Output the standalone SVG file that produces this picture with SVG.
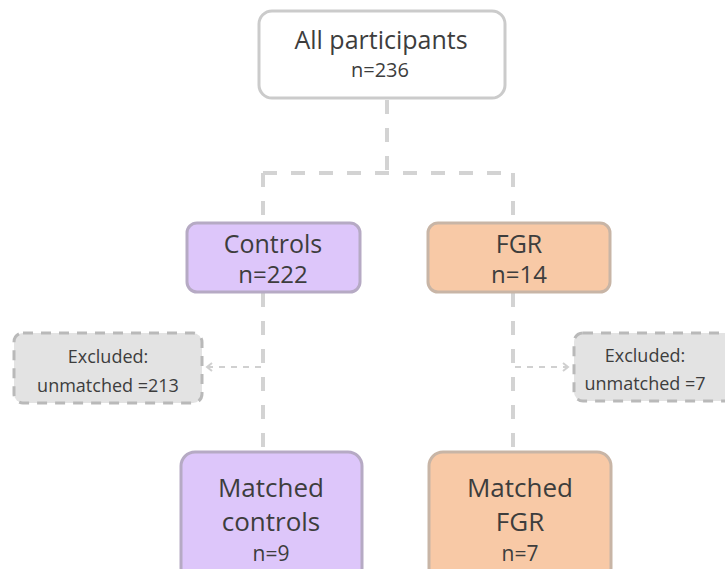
<svg xmlns="http://www.w3.org/2000/svg" width="725" height="569" viewBox="0 0 725 569">
<defs>
<style>
.t{font-family:"Open Sans","Liberation Sans",sans-serif;fill:#3d3d3d;text-anchor:middle}
.conn{fill:none;stroke:#d3d3d3;stroke-width:4;stroke-dasharray:14 14}
.arr{fill:none;stroke:#d0d0d0;stroke-width:2;stroke-dasharray:6 6}
.excl{fill:#e3e3e3;stroke:#b9b9b9;stroke-width:3;stroke-dasharray:10 8}
</style>
<marker id="ah" markerWidth="10" markerHeight="10" refX="6" refY="5" orient="auto" markerUnits="userSpaceOnUse">
<polyline points="1,1 6,5 1,9" fill="none" stroke="#d0d0d0" stroke-width="2"/>
</marker>
</defs>
<rect width="725" height="569" fill="#ffffff"/>
<g id="connectors">
<path class="conn" d="M387 100 V173"/>
<path class="conn" d="M263 173 H513"/>
<path class="conn" d="M263 173 V222"/>
<path class="conn" d="M513 173 V222"/>
<path class="conn" d="M263 293 V452"/>
<path class="conn" d="M513 293 V452"/>
<path class="arr" d="M261 367 H207" marker-end="url(#ah)"/>
<path class="arr" d="M515 367 H568" marker-end="url(#ah)"/>
</g>
<g id="all">
<rect x="259" y="11" width="246" height="87" rx="13" fill="#ffffff" stroke="#cbcbcb" stroke-width="3"/>
<text class="t" x="381" y="49" font-size="25">All participants</text>
<text class="t" x="380" y="77" font-size="20">n=236</text>
</g>
<g id="controls">
<rect x="187" y="223" width="173" height="69" rx="10" fill="#ddc6fa" stroke="#b6aac4" stroke-width="3"/>
<text class="t" x="273" y="253" font-size="25">Controls</text>
<text class="t" x="273" y="283" font-size="24">n=222</text>
</g>
<g id="fgr">
<rect x="428" y="223" width="182" height="69" rx="10" fill="#f8c9a6" stroke="#c8b5a6" stroke-width="3"/>
<text class="t" x="519" y="253" font-size="25">FGR</text>
<text class="t" x="519" y="283" font-size="24">n=14</text>
</g>
<g id="excluded-left">
<rect class="excl" x="14" y="333" width="188" height="70" rx="9"/>
<text class="t" x="108" y="363" font-size="18">Excluded:</text>
<text class="t" x="108" y="392" font-size="18">unmatched =213</text>
</g>
<g id="excluded-right">
<rect class="excl" x="574" y="333" width="170" height="68" rx="9"/>
<text class="t" x="645" y="362" font-size="18">Excluded:</text>
<text class="t" x="645" y="390" font-size="18">unmatched =7</text>
</g>
<g id="matched-controls">
<rect x="181" y="452" width="181" height="130" rx="14" fill="#ddc6fa" stroke="#b6aac4" stroke-width="3"/>
<text class="t" x="271" y="497" font-size="26">Matched</text>
<text class="t" x="271" y="531" font-size="26">controls</text>
<text class="t" x="271" y="561" font-size="21">n=9</text>
</g>
<g id="matched-fgr">
<rect x="429" y="452" width="182" height="130" rx="14" fill="#f8c9a6" stroke="#c8b5a6" stroke-width="3"/>
<text class="t" x="520" y="497" font-size="26">Matched</text>
<text class="t" x="520" y="531" font-size="26">FGR</text>
<text class="t" x="520" y="561" font-size="21">n=7</text>
</g>
</svg>
